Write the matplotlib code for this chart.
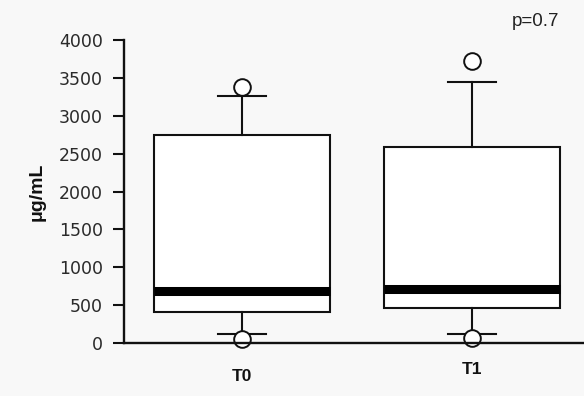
import matplotlib
matplotlib.use('Agg')
import matplotlib.pyplot as plt
from matplotlib.transforms import ScaledTranslation

# Box summary values (ug/mL)
groups = ['T0', 'T1']
q1 = [410, 460]
median = [690, 710]
q3 = [2750, 2590]
whisker_lo = [120, 120]
whisker_hi = [3260, 3450]
fliers = [[3380, 50], [3720, 65]]
p_text = 'p=0.7'

BG = '#f8f8f8'
INK = '#111111'

stats = []
for i, g in enumerate(groups):
    stats.append({'label': g, 'q1': q1[i], 'med': median[i], 'q3': q3[i],
                  'whislo': whisker_lo[i], 'whishi': whisker_hi[i],
                  'fliers': fliers[i]})

fig = plt.figure(figsize=(5.84, 3.96), dpi=100, facecolor=BG)
ax = fig.add_axes([0.2123, 0.1338, 0.7877, 0.7652])
ax.set_facecolor(BG)

ax.bxp(stats, positions=[1, 2], widths=0.765, patch_artist=True,
       boxprops=dict(facecolor='white', edgecolor=INK, linewidth=1.5),
       medianprops=dict(color='black', linewidth=6.5, solid_capstyle='butt'),
       whiskerprops=dict(color=INK, linewidth=1.5),
       capprops=dict(color=INK, linewidth=1.5),
       capwidths=0.21,
       flierprops=dict(marker='o', markerfacecolor='white', markeredgecolor=INK,
                       markersize=12, markeredgewidth=1.4, clip_on=False))

ax.set_ylim(0, 4000)
ax.set_xlim(0.487, 2.487)
ax.set_yticks(range(0, 4001, 500))
ax.tick_params(axis='y', length=8, width=1.5, pad=7, labelsize=12.5,
               labelcolor='#2a2a2a', color=INK)
ax.tick_params(axis='x', length=0, pad=19)
ax.set_xticks([1, 2])
ax.set_xticklabels(groups, fontfamily='Liberation Sans', fontweight='bold',
                   fontsize=12.5, color=INK)
# the T1 label sits slightly higher in the original
lbl = ax.get_xticklabels()[1]
lbl.set_transform(lbl.get_transform() + ScaledTranslation(0, 7 / 100, fig.dpi_scale_trans))

for side in ['top', 'right']:
    ax.spines[side].set_visible(False)
for side in ['left', 'bottom']:
    ax.spines[side].set_linewidth(1.7)
    ax.spines[side].set_color(INK)

ax.set_ylabel('\u03bcg/mL', fontfamily='Liberation Sans', fontweight='bold',
              fontsize=14, color=INK, va='center')
ax.yaxis.set_label_coords(-0.189, 0.5)

fig.text(0.877, 0.945, p_text, fontfamily='Liberation Sans', fontsize=13.5,
         color='#222222', ha='left', va='center')

fig.savefig('out.png', dpi=100, facecolor=BG)
